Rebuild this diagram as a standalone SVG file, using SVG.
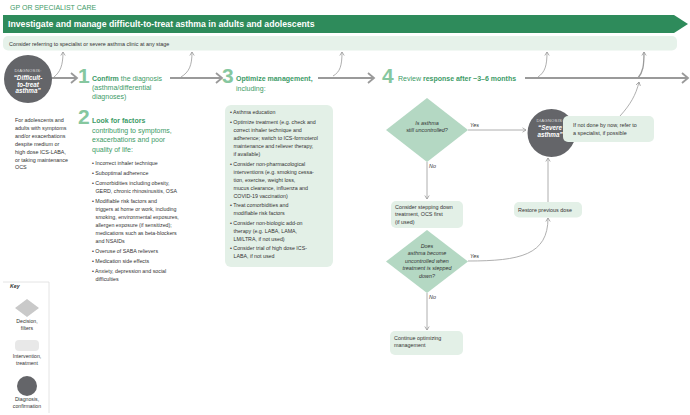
<svg xmlns="http://www.w3.org/2000/svg" width="690" height="415" viewBox="0 0 690 415">
<defs>
<style>
text{font-family:"Liberation Sans",Arial,sans-serif;}
.hdr{font-size:7px;fill:#3d9b67;}
.title{font-size:8.7px;font-weight:bold;fill:#fff;}
.sm{font-size:5.4px;fill:#333;}
.bl{font-size:5.3px;fill:#333;}
.g{fill:#3d9b67;font-size:7px;}
.gb{font-weight:bold;}
.num{font-size:21px;font-weight:bold;fill:#86c79f;}
.box{fill:#e3f0e7;}
.dia{fill:#b4d8c3;}
.circ{fill:#646569;}
.dlab{font-size:4.3px;fill:#ddd;text-anchor:middle;letter-spacing:0.2px;}
.dtx{font-size:6.3px;font-weight:bold;font-style:italic;fill:#fff;text-anchor:middle;}
.q{font-size:5.4px;font-style:italic;fill:#333;text-anchor:middle;}
.yn{font-size:5.4px;font-style:italic;fill:#333;}
.main{stroke:#9a9a9a;stroke-width:2;fill:none;}
.thin{stroke:#9a9a9a;stroke-width:0.8;fill:none;}
.key{font-size:5.2px;fill:#333;text-anchor:middle;}
</style>
<marker id="chev" markerUnits="userSpaceOnUse" markerWidth="10" markerHeight="12" refX="7" refY="6" orient="auto">
<path d="M1,1 L7,6 L1,11" fill="none" stroke="#9a9a9a" stroke-width="1.8"/>
</marker>
<marker id="ah" markerUnits="userSpaceOnUse" markerWidth="6" markerHeight="6" refX="4" refY="3" orient="auto">
<path d="M0.5,0.8 L4,3 L0.5,5.2" fill="none" stroke="#9a9a9a" stroke-width="0.8"/>
</marker>
</defs>
<rect width="690" height="415" fill="#fff"/>

<g id="header">
<text class="hdr" x="10" y="9.5">GP OR SPECIALIST CARE</text>
<path d="M3,15 H674 L688,24 L674,33 H3 Z" fill="#2e8b5b"/>
<text class="title" x="8" y="27.3">Investigate and manage difficult-to-treat asthma in adults and adolescents</text>
<rect x="3" y="36" width="674" height="14.5" rx="5" fill="#e6f2ea"/>
<text class="sm" x="9" y="45.5">Consider referring to specialist or severe asthma clinic at any stage</text>
</g>

<g id="connectors">
<line class="main" x1="48" y1="78" x2="77" y2="78" marker-end="url(#chev)"/>
<line class="main" x1="170" y1="78" x2="222" y2="78" marker-end="url(#chev)"/>
<line class="main" x1="318" y1="78" x2="374" y2="78" marker-end="url(#chev)"/>
<line class="main" x1="525" y1="78" x2="688" y2="78" marker-end="url(#chev)"/>
<path class="thin" d="M54,77 C60,72 63,66 63,52" marker-end="url(#ah)"/>
<path class="thin" d="M181,77 C189,72 192,66 192,52" marker-end="url(#ah)"/>
<path class="thin" d="M333,76 C340,72 342,66 342,52" marker-end="url(#ah)"/>
<path class="thin" d="M538,77 C545,72 547,66 547,52" marker-end="url(#ah)"/>
<path d="M638,78 C643,72 644,66 644,52" stroke="#9a9a9a" stroke-width="1.3" fill="none" marker-end="url(#ah)"/>
<path class="thin" d="M620,116 C630,105 636,95 639,82" marker-end="url(#ah)"/>
<line class="thin" x1="468" y1="130" x2="526" y2="130" marker-end="url(#ah)"/>
<line class="thin" x1="427" y1="162" x2="427" y2="199" marker-end="url(#ah)"/>
<line class="thin" x1="427" y1="293" x2="427" y2="330" marker-end="url(#ah)"/>
<path class="thin" d="M468,261 C520,261 548,255 548,218" marker-end="url(#ah)"/>
<line class="thin" x1="548" y1="202" x2="548" y2="158" marker-end="url(#ah)"/>
<text class="yn" x="470" y="127">Yes</text>
<text class="yn" x="429" y="168">No</text>
<text class="yn" x="470" y="258">Yes</text>
<text class="yn" x="429" y="299">No</text>
</g>

<g id="diag1">
<circle class="circ" cx="28" cy="79" r="24"/>
<text class="dlab" x="28" y="72">DIAGNOSIS:</text>
<text class="dtx" x="28" y="80">“Difficult-</text>
<text class="dtx" x="28" y="86.5">to-treat</text>
<text class="dtx" x="28" y="93">asthma”</text>
</g>

<g id="patients">
<text class="sm" x="15" y="122"><tspan x="15">For adolescents and</tspan><tspan x="15" dy="7.9">adults with symptoms</tspan><tspan x="15" dy="7.9">and/or exacerbations</tspan><tspan x="15" dy="7.9">despite medium or</tspan><tspan x="15" dy="7.9">high dose ICS-LABA,</tspan><tspan x="15" dy="7.9">or taking maintenance</tspan><tspan x="15" dy="7.9">OCS</tspan></text>
</g>

<g id="step1">
<text class="num" x="78" y="83">1</text>
<text class="g" x="92" y="81"><tspan class="gb">Confirm</tspan> the diagnosis</text>
<text class="g" x="92" y="90">(asthma/differential</text>
<text class="g" x="92" y="99">diagnoses)</text>
</g>

<g id="step2">
<text class="num" x="78" y="124">2</text>
<text class="g gb" x="92" y="123">Look for factors</text>
<text class="g" x="92" y="132.5">contributing to symptoms,</text>
<text class="g" x="92" y="142">exacerbations and poor</text>
<text class="g" x="92" y="151.5">quality of life:</text>
<text class="bl" x="92" y="165">
<tspan x="92">• Incorrect inhaler technique</tspan>
<tspan x="92" y="175">• Suboptimal adherence</tspan>
<tspan x="92" y="185">• Comorbidities including obesity,</tspan>
<tspan x="95.5" y="193">GERD, chronic rhinosinusitis, OSA</tspan>
<tspan x="92" y="203">• Modifiable risk factors and</tspan>
<tspan x="95.5" y="211">triggers at home or work, including</tspan>
<tspan x="95.5" y="219">smoking, environmental exposures,</tspan>
<tspan x="95.5" y="227">allergen exposure (if sensitized);</tspan>
<tspan x="95.5" y="235">medications such as beta-blockers</tspan>
<tspan x="95.5" y="243">and NSAIDs</tspan>
<tspan x="92" y="253">• Overuse of SABA relievers</tspan>
<tspan x="92" y="263">• Medication side effects</tspan>
<tspan x="92" y="273">•  Anxiety, depression and social</tspan>
<tspan x="95.5" y="281">difficulties</tspan>
</text>
</g>

<g id="step3">
<text class="num" x="222" y="83">3</text>
<text class="g gb" x="236" y="81">Optimize management,</text>
<text class="g" x="236" y="91">including:</text>
<rect class="box" x="225" y="105" width="108" height="162" rx="6"/>
<text class="bl" x="230" y="114">
<tspan x="230">• Asthma education</tspan>
<tspan x="230" y="124">• Optimize treatment (e.g. check and</tspan>
<tspan x="233.5" y="132">correct inhaler technique and</tspan>
<tspan x="233.5" y="140">adherence; switch to ICS-formoterol</tspan>
<tspan x="233.5" y="148">maintenance and reliever therapy,</tspan>
<tspan x="233.5" y="156">if available)</tspan>
<tspan x="230" y="166">• Consider non-pharmacological</tspan>
<tspan x="233.5" y="174">interventions (e.g. smoking cessa-</tspan>
<tspan x="233.5" y="182">tion, exercise, weight loss,</tspan>
<tspan x="233.5" y="190">mucus clearance, influenza and</tspan>
<tspan x="233.5" y="198">COVID-19 vaccination)</tspan>
<tspan x="230" y="207">• Treat comorbidities and</tspan>
<tspan x="233.5" y="215">modifiable risk factors</tspan>
<tspan x="230" y="225">• Consider non-biologic add-on</tspan>
<tspan x="233.5" y="233">therapy (e.g. LABA, LAMA,</tspan>
<tspan x="233.5" y="241">LM/LTRA, if not used)</tspan>
<tspan x="230" y="250">• Consider trial of high dose ICS-</tspan>
<tspan x="233.5" y="258">LABA, if not used</tspan>
</text>
</g>

<g id="step4">
<text class="num" x="382" y="83">4</text>
<text class="g" x="398" y="81">Review <tspan class="gb">response after ~3–6 months</tspan></text>
</g>

<g id="q1">
<path class="dia" d="M427,98 L468,130 L427,162 L386,130 Z"/>
<text class="q" x="427" y="125">Is asthma</text>
<text class="q" x="427" y="132">still uncontrolled?</text>
</g>

<g id="stepdown">
<rect class="box" x="391" y="201" width="72" height="27" rx="5"/>
<text class="sm" x="395" y="208.5"><tspan x="395">Consider stepping down</tspan><tspan x="395" dy="7.6">treatment, OCS first</tspan><tspan x="395" dy="7.6">(if used)</tspan></text>
</g>

<g id="q2">
<path class="dia" d="M427,230 L468,261.5 L427,293 L386,261.5 Z"/>
<text class="q" x="427" y="248">Does</text>
<text class="q" x="427" y="255">asthma become</text>
<text class="q" x="427" y="262.5">uncontrolled when</text>
<text class="q" x="427" y="270">treatment is stepped</text>
<text class="q" x="427" y="277.5">down?</text>
</g>

<g id="continue">
<rect class="box" x="390" y="331" width="73" height="24" rx="5"/>
<text class="sm" x="394" y="339.5"><tspan x="394">Continue optimizing</tspan><tspan x="394" dy="7.8">management</tspan></text>
</g>

<g id="restore">
<rect class="box" x="514" y="202" width="68" height="15.5" rx="5"/>
<text class="sm" x="518" y="212">Restore previous dose</text>
</g>

<g id="severe">
<circle class="circ" cx="551.5" cy="133" r="24"/>
<text class="dlab" x="550" y="121.5">DIAGNOSIS:</text>
<text class="dtx" x="550" y="129.5">“Severe</text>
<text class="dtx" x="550" y="137">asthma”</text>
</g>

<g id="refer">
<rect class="box" x="563" y="116" width="91" height="26" rx="5"/>
<text class="sm" x="573" y="127"><tspan x="573">If not done by now, refer to</tspan><tspan x="573" dy="7.8">a specialist, if possible</tspan></text>
</g>

<g id="key">
<path d="M3,282 H49 V413" fill="none" stroke="#ddd" stroke-width="0.8"/>
<text x="10" y="288" style="font-size:5.2px;font-weight:bold;font-style:italic;fill:#333">Key</text>
<path d="M27,299 L39,308 L27,317 L15,308 Z" fill="#c9c9c9"/>
<text class="key" x="27" y="323">Decision,</text>
<text class="key" x="27" y="329.5">filters</text>
<rect x="15" y="340" width="24" height="11" rx="4" fill="#e8e8e8"/>
<text class="key" x="27" y="358">Intervention,</text>
<text class="key" x="27" y="364.5">treatment</text>
<circle cx="27" cy="386" r="10" fill="#646569"/>
<text class="key" x="27" y="401">Diagnosis,</text>
<text class="key" x="27" y="407.5">confirmation</text>
</g>
</svg>
